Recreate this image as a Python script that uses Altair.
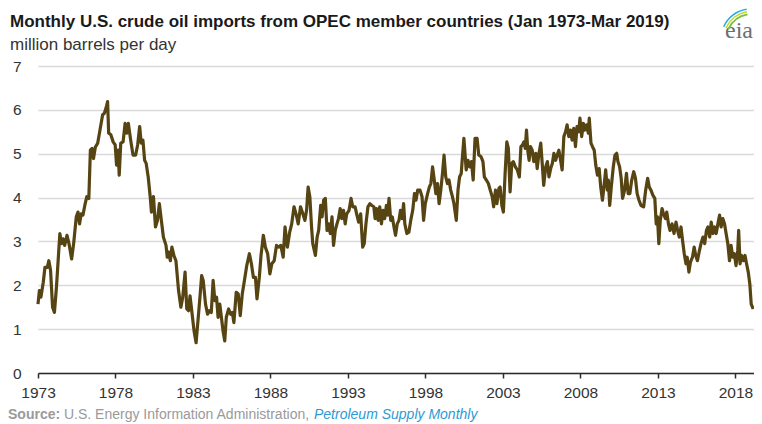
import altair as alt
import pandas as pd

# ---- data (decimal year, million barrels per day) ----
YEARS = [
    1973.00, 1973.09, 1973.19, 1973.34, 1973.45, 1973.60, 1973.70, 1973.81, 1973.94, 1974.06,
    1974.19, 1974.41, 1974.51, 1974.62, 1974.72, 1974.87, 1975.00, 1975.17, 1975.30, 1975.47,
    1975.58, 1975.68, 1975.79, 1975.90, 1976.02, 1976.15, 1976.28, 1976.38, 1976.49, 1976.58,
    1976.70, 1976.85, 1977.00, 1977.17, 1977.28, 1977.39, 1977.49, 1977.56, 1977.70, 1977.85,
    1977.98, 1978.07, 1978.17, 1978.24, 1978.34, 1978.49, 1978.62, 1978.73, 1978.83, 1978.98,
    1979.13, 1979.30, 1979.43, 1979.56, 1979.66, 1979.77, 1979.88, 1979.98, 1980.11, 1980.24,
    1980.32, 1980.45, 1980.58, 1980.71, 1980.83, 1980.96, 1981.09, 1981.26, 1981.34, 1981.43,
    1981.54, 1981.64, 1981.77, 1981.90,
    1982.07, 1982.22, 1982.34, 1982.49, 1982.60, 1982.71, 1982.81, 1982.92, 1983.07, 1983.20,
    1983.34, 1983.45, 1983.56, 1983.66, 1983.81, 1983.94, 1984.05, 1984.18, 1984.30, 1984.41,
    1984.52, 1984.62, 1984.73, 1984.86, 1984.94, 1985.05, 1985.15, 1985.30, 1985.43, 1985.54,
    1985.64, 1985.79, 1985.92, 1986.05, 1986.18, 1986.32, 1986.47, 1986.64, 1986.77, 1986.90,
    1987.03, 1987.13, 1987.28, 1987.39, 1987.54, 1987.67, 1987.82, 1987.96, 1988.09, 1988.24,
    1988.39, 1988.52, 1988.67, 1988.82, 1988.94, 1989.09, 1989.24, 1989.37, 1989.52, 1989.67,
    1989.79, 1989.94, 1990.09, 1990.22, 1990.33, 1990.43, 1990.54, 1990.65, 1990.73, 1990.90,
    1991.01, 1991.11, 1991.24,
    1991.33, 1991.43, 1991.54, 1991.65, 1991.75, 1991.86, 1991.97, 1992.07, 1992.18, 1992.29,
    1992.39, 1992.50, 1992.60, 1992.71, 1992.82, 1992.92, 1993.07, 1993.20, 1993.31, 1993.46,
    1993.56, 1993.69, 1993.82, 1993.95, 1994.05, 1994.16, 1994.29, 1994.41, 1994.54, 1994.67,
    1994.75, 1994.84, 1994.95, 1995.05, 1995.16, 1995.27, 1995.37, 1995.48, 1995.56, 1995.65,
    1995.76, 1995.86, 1995.97, 1996.07, 1996.18, 1996.29, 1996.39, 1996.50, 1996.59, 1996.67,
    1996.80, 1996.93, 1997.05, 1997.18, 1997.29, 1997.39, 1997.50, 1997.65, 1997.78, 1997.88,
    1997.99, 1998.14, 1998.25, 1998.35, 1998.46, 1998.57, 1998.67, 1998.78, 1998.88, 1998.99,
    1999.10, 1999.20, 1999.31, 1999.42, 1999.52, 1999.63, 1999.74, 1999.84, 1999.99, 2000.10,
    2000.20, 2000.31, 2000.37, 2000.48,
    2000.63, 2000.74, 2000.86, 2000.97, 2001.08, 2001.20, 2001.33, 2001.44, 2001.59, 2001.71,
    2001.80, 2001.93, 2002.06, 2002.18, 2002.31, 2002.40, 2002.52, 2002.61, 2002.74, 2002.82,
    2002.93, 2003.03, 2003.14, 2003.25, 2003.35, 2003.46, 2003.57, 2003.67, 2003.80, 2003.93,
    2004.06, 2004.16, 2004.27, 2004.35, 2004.44, 2004.52, 2004.61, 2004.69, 2004.78, 2004.89,
    2004.99, 2005.12, 2005.21, 2005.31, 2005.44, 2005.55, 2005.63, 2005.76, 2005.87, 2005.97,
    2006.08, 2006.19, 2006.29, 2006.40, 2006.50, 2006.61, 2006.72, 2006.82, 2006.93, 2007.04,
    2007.14, 2007.25, 2007.36, 2007.46, 2007.57, 2007.68, 2007.78, 2007.89, 2007.97, 2008.08,
    2008.19, 2008.29, 2008.40, 2008.51, 2008.57, 2008.68, 2008.78, 2008.89, 2008.99, 2009.10,
    2009.21, 2009.31, 2009.42, 2009.53, 2009.63, 2009.74,
    2009.80, 2009.89, 2009.99, 2010.12, 2010.23, 2010.34, 2010.42, 2010.53, 2010.63, 2010.72,
    2010.85, 2010.97, 2011.08, 2011.19, 2011.31, 2011.44, 2011.55, 2011.66, 2011.78, 2011.91,
    2012.08, 2012.21, 2012.34, 2012.44, 2012.55, 2012.68, 2012.80, 2012.89, 2012.97, 2013.06,
    2013.15, 2013.27, 2013.36, 2013.49, 2013.57, 2013.68, 2013.78, 2013.91, 2014.04, 2014.17,
    2014.27, 2014.38, 2014.49, 2014.59, 2014.70, 2014.81, 2014.89, 2015.00, 2015.10, 2015.23,
    2015.34, 2015.44, 2015.55, 2015.66, 2015.78, 2015.91, 2016.02, 2016.13, 2016.23, 2016.34,
    2016.44, 2016.55, 2016.66, 2016.76, 2016.87, 2016.98, 2017.08, 2017.19, 2017.30, 2017.40,
    2017.51, 2017.62, 2017.72, 2017.83, 2017.93, 2018.04, 2018.15, 2018.21, 2018.30, 2018.40,
    2018.51, 2018.62, 2018.72, 2018.83, 2018.93, 2019.02, 2019.15,
]
MBD = [
    1.57, 1.88, 1.73, 2.07, 2.41, 2.41, 2.56, 2.34, 1.50, 1.38,
    1.95, 3.18, 2.95, 3.06, 2.91, 3.14, 2.95, 2.60, 2.95, 3.56,
    3.67, 3.40, 3.63, 3.60, 3.82, 4.02, 3.98, 5.08, 5.12, 4.89,
    5.15, 5.24, 5.54, 5.89, 5.92, 6.04, 6.19, 5.47, 5.43, 5.27,
    5.20, 4.74, 5.08, 4.51, 5.24, 5.27, 5.69, 5.47, 5.69, 5.31,
    4.97, 4.97, 5.20, 5.62, 5.24, 5.31, 4.85, 4.78, 4.47, 4.02,
    3.67, 4.02, 3.33, 3.48, 3.86, 3.48, 3.10, 2.91, 2.64, 2.76,
    2.56, 2.87, 2.68, 2.56,
    1.88, 1.50, 1.73, 2.30, 1.46, 1.42, 1.76, 1.42, 0.96, 0.69,
    1.27, 1.73, 2.22, 2.11, 1.57, 1.34, 1.42, 1.38, 2.11, 1.65,
    1.73, 1.27, 1.57, 1.19, 0.96, 0.73, 1.27, 1.46, 1.34, 1.38,
    1.15, 1.84, 1.80, 1.31, 1.80, 2.11, 2.45, 2.72, 2.49, 2.18,
    2.18, 1.69, 2.18, 2.68, 3.14, 2.87, 2.72, 2.26, 2.49, 2.56,
    2.91, 2.87, 2.91, 2.64, 3.33, 2.87, 3.21, 3.40, 3.79, 3.60,
    3.40, 3.79, 3.63, 3.48, 3.71, 4.24, 4.02, 3.33, 2.95, 2.68,
    3.10, 3.25, 3.82,
    3.56, 3.94, 3.98, 3.25, 3.40, 3.18, 3.56, 2.91, 3.25, 3.40,
    3.52, 3.75, 3.52, 3.71, 3.40, 3.63, 3.71, 3.98, 3.79, 3.79,
    3.63, 3.44, 3.63, 2.87, 2.95, 3.40, 3.79, 3.86, 3.82, 3.79,
    3.52, 3.75, 3.48, 3.79, 3.40, 3.71, 3.52, 3.82, 3.60, 3.98,
    3.48, 3.56, 3.33, 3.14, 3.40, 3.48, 3.71, 3.52, 3.86, 3.40,
    3.18, 3.21, 3.48, 3.71, 4.09, 3.94, 4.17, 4.17, 4.02, 3.48,
    3.86, 4.09, 4.24, 4.32, 4.70, 4.40, 4.09, 4.32, 3.86, 4.17,
    4.55, 4.97, 4.47, 4.32, 4.40, 4.17, 4.02, 3.86, 3.48, 4.17,
    4.47, 4.55, 4.85, 5.35,
    4.63, 4.85, 4.70, 4.82, 4.40, 5.35, 5.35, 4.97, 4.93, 4.82,
    4.47, 4.40, 4.32, 4.17, 4.02, 3.79, 4.17, 3.86, 4.21, 4.24,
    3.82, 3.67, 4.55, 5.27, 5.12, 4.13, 4.78, 4.82, 4.70, 4.63,
    4.47, 5.16, 5.20, 5.27, 5.12, 5.54, 5.05, 4.85, 5.16, 5.08,
    4.82, 5.01, 4.66, 4.97, 5.24, 4.70, 4.28, 4.70, 4.82, 4.47,
    4.66, 4.78, 5.01, 4.85, 4.97, 5.08, 4.85, 4.63, 5.39, 5.50,
    5.66, 5.39, 5.54, 5.31, 5.58, 5.16, 5.62, 5.50, 5.81, 5.39,
    5.69, 5.54, 5.66, 5.47, 5.81, 5.24, 5.16, 5.08, 4.74, 4.51,
    4.66, 4.24, 3.94, 4.28, 4.63, 4.17,
    4.40, 3.82, 4.24, 4.70, 4.97, 5.01, 4.82, 4.70, 4.44, 3.98,
    4.17, 4.55, 4.09, 4.09, 4.40, 4.59, 4.44, 4.09, 3.94, 3.82,
    3.79, 4.17, 4.44, 4.24, 4.17, 4.05, 3.98, 3.40, 3.56, 2.95,
    3.48, 3.75, 3.63, 3.52, 3.67, 3.40, 3.25, 3.40, 3.18, 3.44,
    3.25, 3.10, 3.33, 3.02, 2.72, 2.49, 2.64, 2.30, 2.53, 2.64,
    2.87, 2.68, 2.56, 2.76, 2.95, 3.10, 2.95, 3.25, 3.33, 3.10,
    3.44, 3.18, 3.33, 3.18, 3.40, 3.60, 3.33, 3.52, 3.40, 3.18,
    2.95, 2.56, 2.91, 2.64, 2.72, 2.45, 2.79, 3.25, 2.49, 2.68,
    2.56, 2.68, 2.49, 2.30, 2.03, 1.57, 1.46,
]
X_TICKS = [1973, 1978, 1983, 1988, 1993, 1998, 2003, 2008, 2013, 2018]
Y_TICKS = [0, 1, 2, 3, 4, 5, 6, 7]
TITLE = "Monthly U.S. crude oil imports from OPEC member countries (Jan 1973-Mar 2019)"
SUBTITLE = "million barrels per day"
SOURCE_LABEL = "Source:"
SOURCE_TEXT = "U.S. Energy Information Administration,"
SOURCE_LINK = "Petroleum Supply Monthly"
LOGO = "eia"

df = pd.DataFrame({"year": YEARS, "mbd": MBD})

FONT = "Liberation Sans"
W, H = 716, 307

line = alt.Chart(df).mark_line(
    color="#574413", strokeWidth=3.2, strokeJoin="round"
).encode(
    x=alt.X("year:Q",
            scale=alt.Scale(domain=[1973, 2019.2], nice=False, zero=False),
            axis=alt.Axis(values=X_TICKS, format="d", title=None, grid=False,
                          domainColor="#2b2b2b", domainWidth=1.5,
                          tickColor="#2b2b2b", tickWidth=1.5, tickSize=5,
                          labelFont=FONT, labelFontSize=15.5, labelColor="#333333",
                          labelPadding=7, labelFlush=False)),
    y=alt.Y("mbd:Q",
            scale=alt.Scale(domain=[0, 7], nice=False),
            axis=alt.Axis(values=Y_TICKS, title=None, grid=True,
                          gridColor="#d9d9d9", gridWidth=1.5,
                          domain=False, ticks=False,
                          labelFont=FONT, labelFontSize=15.5, labelColor="#333333",
                          labelPadding=17)),
)


def text_layer(txt, x, y, size, color, weight="normal", style="normal", font=FONT, align="left"):
    return alt.Chart(pd.DataFrame({"t": [txt]})).mark_text(
        align=align, baseline="alphabetic", font=font, fontSize=size,
        fontWeight=weight, fontStyle=style, color=color
    ).encode(text="t:N", x=alt.value(x), y=alt.value(y))


title = text_layer(TITLE, -28, -39, 17, "#1a1a1a", weight="bold")
subtitle = text_layer(SUBTITLE, -28, -16.5, 17, "#333333")
src1 = text_layer(SOURCE_LABEL, -30, 353, 14, "#9a9a9a", weight="bold")
src2 = text_layer(SOURCE_TEXT, 26, 353, 14, "#9a9a9a")
src3 = text_layer(SOURCE_LINK, 276, 353, 14, "#2b9bd3", style="italic")
logo = text_layer(LOGO, 701, -28, 24, "#6d6e71", font="Liberation Serif", align="center")


def arc_layer(r1, r2, color):
    return alt.Chart(pd.DataFrame({"a": [1]})).mark_arc(
        radius=r1, radius2=r2, theta=5.15, theta2=6.11, color=color
    ).encode(x=alt.value(714), y=alt.value(-26))


arcs = [arc_layer(25, 27, "#7ac143"), arc_layer(28, 29.5, "#c5d92d"), arc_layer(30.5, 32, "#28a8e0")]

chart = alt.layer(line, title, subtitle, src1, src2, src3, logo, *arcs).properties(
    width=W, height=H,
    padding={"left": 30, "top": 58, "right": 0, "bottom": 51},
    autosize=alt.AutoSizeParams(type="none"),
).configure_view(stroke=None)

chart.save("out.html", embed_options={"renderer": "svg", "actions": False})
